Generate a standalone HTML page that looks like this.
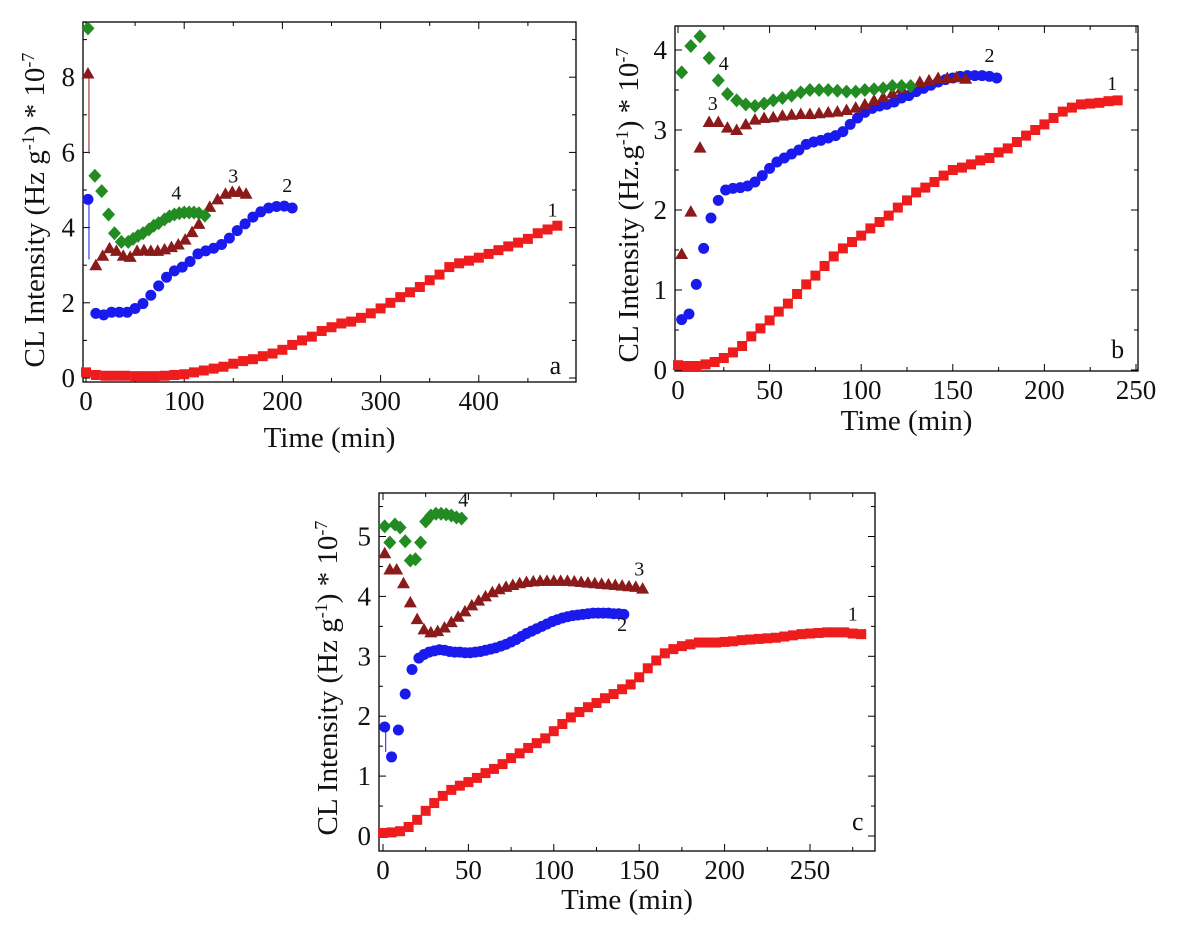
<!DOCTYPE html>
<html><head><meta charset="utf-8"><style>
html,body{margin:0;padding:0;background:#fff;}
svg{display:block;}
text{font-family:"Liberation Serif",serif;fill:#111;}
</style></head><body>
<svg id="fig" width="1188" height="925" viewBox="0 0 1188 925" xmlns="http://www.w3.org/2000/svg"></svg>
<script>
// ---- Panel a data ----
const aX1=[0,10,20,30,40,50,60,70,80,90,100,110,120,130,140,150,160,170,180,190,200,210,220,230,240,250,260,270,280,290,300,310,320,330,340,350,360,370,380,390,400,410,420,430,440,450,460,470,480];
const aY1=[0.15,0.08,0.06,0.06,0.06,0.05,0.05,0.05,0.06,0.08,0.1,0.15,0.2,0.25,0.3,0.38,0.45,0.5,0.58,0.65,0.75,0.88,1.0,1.1,1.25,1.35,1.45,1.5,1.6,1.72,1.85,2.0,2.15,2.28,2.42,2.6,2.75,2.95,3.05,3.12,3.2,3.3,3.4,3.5,3.6,3.7,3.85,3.95,4.05];
const aX2=[2,10,18,26,34,42,50,58,66,74,82,90,98,106,114,122,130,138,146,154,162,170,178,186,194,202,210];
const aY2=[4.75,1.72,1.68,1.75,1.75,1.75,1.85,1.98,2.2,2.45,2.68,2.85,2.95,3.1,3.3,3.38,3.45,3.55,3.72,3.92,4.1,4.28,4.42,4.52,4.56,4.57,4.52];
const aX3=[2,10,17,24,31,38,45,52,59,66,73,80,87,94,101,108,115,126,134,142,149,156,163];
const aY3=[8.1,3.0,3.25,3.45,3.38,3.25,3.22,3.38,3.4,3.38,3.38,3.42,3.48,3.55,3.68,3.88,4.1,4.55,4.75,4.9,4.95,4.95,4.9];
const aX4=[2,9,16,23,29,36,43,48,53,58,64,69,74,80,85,90,95,100,105,110,115,121];
const aY4=[9.3,5.38,4.97,4.35,3.85,3.62,3.62,3.7,3.78,3.85,3.95,4.05,4.12,4.22,4.3,4.35,4.38,4.4,4.4,4.4,4.38,4.32];
const aXTicks=[0,100,200,300,400];
const aYTicks=[0,2,4,6,8];
// ---- Panel b data ----
const bX1=[0,5,10,15,20,25,30,35,40,45,50,55,60,65,70,75,80,85,90,95,100,105,110,115,120,125,130,135,140,145,150,155,160,165,170,175,180,185,190,195,200,205,210,215,220,225,230,235,240];
const bY1=[0.06,0.05,0.05,0.07,0.1,0.15,0.22,0.3,0.42,0.52,0.62,0.73,0.83,0.95,1.07,1.18,1.3,1.42,1.52,1.6,1.68,1.77,1.85,1.93,2.03,2.12,2.22,2.28,2.35,2.43,2.5,2.53,2.57,2.62,2.65,2.72,2.77,2.85,2.93,3.0,3.07,3.15,3.23,3.28,3.32,3.33,3.34,3.36,3.37];
const bX2=[2,6,10,14,18,22,26,30,34,38,42,46,50,54,58,62,66,70,74,78,82,86,90,94,98,102,106,110,114,118,122,126,130,134,138,142,146,150,154,158,162,166,170,174];
const bY2=[0.63,0.7,1.07,1.52,1.9,2.12,2.25,2.27,2.28,2.3,2.35,2.43,2.52,2.6,2.65,2.7,2.75,2.82,2.85,2.87,2.9,2.93,2.98,3.07,3.15,3.22,3.27,3.3,3.32,3.35,3.4,3.43,3.48,3.52,3.56,3.6,3.63,3.65,3.67,3.68,3.68,3.68,3.67,3.65];
const bX3=[2,7,12,17,22,27,32,37,42,47,52,57,62,67,72,77,82,87,92,97,102,107,112,117,122,132,137,142,147,152,157];
const bY3=[1.45,1.98,2.78,3.1,3.1,3.03,3.0,3.07,3.13,3.15,3.16,3.18,3.19,3.2,3.2,3.21,3.22,3.23,3.25,3.28,3.32,3.37,3.41,3.46,3.52,3.6,3.62,3.65,3.65,3.66,3.64];
const bX4=[2,7,12,17,22,27,32,37,42,47,52,57,62,67,72,77,82,87,92,97,102,107,112,117,122,127];
const bY4=[3.72,4.05,4.17,3.9,3.62,3.45,3.37,3.32,3.3,3.33,3.37,3.4,3.43,3.47,3.5,3.5,3.5,3.49,3.48,3.48,3.5,3.51,3.52,3.55,3.55,3.55];
const bXTicks=[0,50,100,150,200,250];
const bYTicks=[0,1,2,3,4];
// ---- Panel c data ----
const cX1=[0,5,10,15,20,25,30,35,40,45,50,55,60,65,70,75,80,85,90,95,100,105,110,115,120,125,130,135,140,145,150,155,160,165,170,175,180,185,190,195,200,205,210,215,220,225,230,235,240,245,250,255,260,265,270,275,280];
const cY1=[0.05,0.06,0.08,0.15,0.27,0.42,0.55,0.67,0.77,0.84,0.9,0.97,1.05,1.12,1.2,1.3,1.38,1.47,1.55,1.63,1.75,1.87,1.98,2.07,2.15,2.22,2.3,2.37,2.45,2.53,2.65,2.8,2.93,3.05,3.12,3.17,3.2,3.23,3.23,3.23,3.24,3.25,3.27,3.28,3.29,3.3,3.31,3.33,3.35,3.37,3.38,3.39,3.4,3.4,3.4,3.38,3.37];
const cX2=[1,5,9,13,17,21,24,27,30,33,36,39,42,45,48,51,54,57,60,63,66,69,72,75,78,81,84,87,90,93,96,99,102,105,108,111,114,117,120,123,126,129,132,135,138,141];
const cY2=[1.82,1.32,1.77,2.37,2.78,2.97,3.03,3.07,3.09,3.11,3.1,3.08,3.07,3.07,3.06,3.06,3.07,3.08,3.1,3.12,3.14,3.17,3.2,3.24,3.28,3.33,3.38,3.42,3.46,3.5,3.54,3.58,3.61,3.64,3.66,3.68,3.69,3.7,3.71,3.72,3.72,3.72,3.72,3.71,3.71,3.7];
const cX3=[1,4,8,12,16,20,24,28,32,36,40,44,48,52,56,60,64,68,72,76,80,84,88,92,96,100,104,108,112,116,120,124,128,132,136,140,144,148,152];
const cY3=[4.72,4.45,4.45,4.22,3.9,3.62,3.45,3.4,3.42,3.48,3.57,3.66,3.75,3.85,3.93,4.0,4.07,4.12,4.16,4.19,4.22,4.24,4.25,4.26,4.26,4.26,4.26,4.26,4.25,4.24,4.23,4.22,4.21,4.2,4.19,4.18,4.17,4.16,4.13];
const cX4=[1,4,7,10,13,16,19,22,25,28,31,34,37,40,43,46];
const cY4=[5.17,4.9,5.2,5.15,4.92,4.6,4.62,4.9,5.25,5.35,5.38,5.38,5.37,5.35,5.32,5.3];
const cXTicks=[0,50,100,150,200,250];
const cYTicks=[0,1,2,3,4,5];

const NS="http://www.w3.org/2000/svg";
const svg=document.getElementById('fig');
function mk(tag,attrs,parent){const e=document.createElementNS(NS,tag);for(const k in attrs)e.setAttribute(k,attrs[k]);(parent||svg).appendChild(e);return e;}
const COL={1:'#ee1c1c',2:'#1a1aee',3:'#8b1a1a',4:'#228b22'};

function panel(p){
  const g=mk('g',{});
  
  
  const sx=v=>p.x0px+(v-0)*p.xs;
  const sy=v=>p.y0px-v*p.ys;
  const fr=mk('rect',{x:p.L,y:p.T,width:p.R-p.L,height:p.B-p.T,fill:'none',stroke:'#000','stroke-width':1.3},g);
  
  
  for(let v=p.xMinorStart;sx(v)<=p.R+0.5;v+=p.xMinor){
    const X=sx(v); if(X<p.L-0.5)continue;
    const major=p.xTicks.includes(v); const len=major?7:4;
    mk('line',{x1:X,y1:p.B,x2:X,y2:p.B-len,stroke:'#000','stroke-width':1},g);
    mk('line',{x1:X,y1:p.T,x2:X,y2:p.T+len,stroke:'#000','stroke-width':1},g);
  }
  p.xTicks.forEach(v=>{
    const t=mk('text',{x:sx(v),y:p.B+28,'font-size':27,'text-anchor':'middle'},g);t.textContent=v;
    
    
  });
  for(let v=0;sy(v)>=p.T-0.5;v+=p.yMinor){
    const Y=sy(v); const major=p.yTicks.some(t=>Math.abs(t-v)<1e-6); const len=major?7:4;
    mk('line',{x1:p.L,y1:Y,x2:p.L+len,y2:Y,stroke:'#000','stroke-width':1},g);
    mk('line',{x1:p.R,y1:Y,x2:p.R-len,y2:Y,stroke:'#000','stroke-width':1},g);
  }
  p.yTicks.forEach(v=>{
    const t=mk('text',{x:p.L-8,y:sy(v)+9,'font-size':27,'text-anchor':'end'},g);t.textContent=v;
    
    
  });
  const xt=mk('text',{x:(p.L+p.R)/2,y:p.xtY,'font-size':29,'text-anchor':'middle'},g);xt.textContent='Time (min)';
  
  
  const yt=mk('text',{x:0,y:0,'font-size':29,'text-anchor':'middle',transform:`translate(${p.ytX},${p.ytY}) rotate(-90)`},g);
  yt.innerHTML=p.ytitle;
  
  
  p.series.forEach(s=>{
    const sg=mk('g',{},g);
    
    
    if(s.line){mk('line',{x1:sx(s.xs[0])+1,y1:sy(s.ys[0]),x2:sx(s.xs[0])+1,y2:sy(s.ys[0])+s.line,stroke:COL[s.k],'stroke-width':1},sg);}
    s.xs.forEach((xv,i)=>{
      const X=sx(xv),Y=sy(s.ys[i]);let m;
      if(s.k===1)m=mk('rect',{x:X-5,y:Y-5,width:10,height:10,fill:COL[1]},sg);
      else if(s.k===2)m=mk('circle',{cx:X,cy:Y,r:5.5,fill:COL[2]},sg);
      else if(s.k===3)m=mk('polygon',{points:`${X},${Y-6.5} ${X+6.5},${Y+5} ${X-6.5},${Y+5}`,fill:COL[3]},sg);
      else m=mk('polygon',{points:`${X},${Y-7} ${X+6.5},${Y} ${X},${Y+7} ${X-6.5},${Y}`,fill:COL[4]},sg);
      
      
    });
  });
  p.labels.forEach(l=>{
    const t=mk('text',{x:sx(l[1]),y:sy(l[2]),'font-size':l[3]||20,'text-anchor':'middle'},g);t.textContent=l[0];
    
    
  });
}

const sup=s=>`<tspan baseline-shift="super" font-size="18">${s}</tspan>`;
panel({id:'a',L:83,R:576,T:22,B:382,x0px:86,xs:0.982,y0px:378,ys:37.6,xTicks:aXTicks,yTicks:aYTicks,xMinor:50,xMinorStart:0,yMinor:1,
  xtY:447,ytX:44,ytY:210,ytitle:'CL Intensity (Hz g'+sup('-1')+') * 10'+sup('-7'),
  series:[{k:1,xs:aX1,ys:aY1},{k:2,xs:aX2,ys:aY2,line:60},{k:3,xs:aX3,ys:aY3,line:80},{k:4,xs:aX4,ys:aY4}],
  labels:[['1',475,4.3],['2',205,4.95],['3',150,5.2],['4',92,4.75],['a',478,0.1,26]]});
panel({id:'b',L:675,R:1138,T:26,B:371,x0px:678,xs:1.832,y0px:370,ys:80,xTicks:bXTicks,yTicks:bYTicks,xMinor:25,xMinorStart:0,yMinor:0.5,
  xtY:430,ytX:638,ytY:205,ytitle:'CL Intensity (Hz.g'+sup('-1')+') * 10'+sup('-7'),
  series:[{k:1,xs:bX1,ys:bY1},{k:2,xs:bX2,ys:bY2},{k:3,xs:bX3,ys:bY3},{k:4,xs:bX4,ys:bY4}],
  labels:[['1',237,3.5],['2',170,3.85],['3',19,3.25],['4',25,3.75],['b',240,0.15,26]]});
panel({id:'c',L:379,R:875,T:493,B:851,x0px:383,xs:1.708,y0px:836,ys:59.9,xTicks:cXTicks,yTicks:cYTicks,xMinor:25,xMinorStart:0,yMinor:0.5,
  xtY:909,ytX:337,ytY:678,ytitle:'CL Intensity (Hz g'+sup('-1')+') * 10'+sup('-7'),
  series:[{k:1,xs:cX1,ys:cY1},{k:2,xs:cX2,ys:cY2,line:25},{k:3,xs:cX3,ys:cY3},{k:4,xs:cX4,ys:cY4}],
  labels:[['1',275,3.6],['2',140,3.42],['3',150,4.35],['4',47,5.5],['c',278,0.1,26]]});
</script>
</body></html>
